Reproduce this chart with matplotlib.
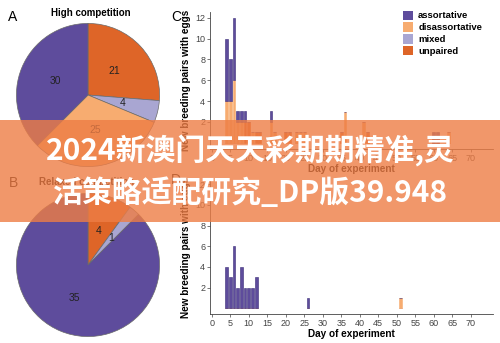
import numpy as np
import matplotlib.pyplot as plt
from matplotlib.patches import Patch, Rectangle

plt.rcParams['font.family'] = ['Liberation Sans', 'DejaVu Sans']

# categories and colours
cats = ['assortative', 'disassortative', 'mixed', 'unpaired']
cols = {'assortative': '#5E4C9C', 'disassortative': '#F7AC70',
        'mixed': '#A9A6D2', 'unpaired': '#DE6528'}

# pie counts (order: unpaired, mixed, disassortative, assortative)
pie_order = ['unpaired', 'mixed', 'disassortative', 'assortative']
high_comp = [21, 4, 25, 30]
relaxed_comp = [4, 1, 0, 35]

# panel C: high competition, new pairs per day
days_c = [4, 5, 6, 7, 8, 9, 10, 11, 12, 13, 16, 17, 20, 21, 23, 24, 25, 35, 36, 41, 42, 60, 61, 64]
assort_c = [6, 4, 6, 1, 1, 1, 0, 0, 0, 0, 1, 0, 0, 0, 0, 0, 0, 0, 0, 0, 0, 1, 1, 0]
disass_c = [4, 4, 6, 2, 2, 0, 0, 1, 0, 0, 2, 1, 0, 0, 1, 1, 1, 0, 3, 2, 0, 0, 0, 1]
mixed_c = [0] * len(days_c)
unpaired_c = [0, 0, 0, 0, 0, 2, 2, 0, 1, 1, 0, 0, 1, 1, 0, 0, 0, 1, 0, 0, 1, 0, 0, 0]

# panel D: relaxed competition
days_d = [4, 5, 6, 7, 8, 9, 10, 11, 12, 26, 51]
assort_d = [4, 3, 6, 2, 4, 2, 2, 2, 3, 1, 0]
disass_d = [0, 0, 0, 0, 0, 0, 0, 0, 0, 0, 1]
mixed_d = [0] * len(days_d)
unpaired_d = [0] * len(days_d)

W, H = 500, 343
fig = plt.figure(figsize=(W / 100, H / 100), dpi=100)


def px_axes(x0, y0, x1, y1):
    # pixel box (top-left origin) -> figure axes
    return fig.add_axes([x0 / W, 1 - y1 / H, (x1 - x0) / W, (y1 - y0) / H])


def draw_pie(ax, vals):
    labels = [c for c, v in zip(pie_order, vals) if v > 0]
    v = [x for x in vals if x > 0]
    total = sum(v)
    wedges, texts, autotexts = ax.pie(
        v, colors=[cols[c] for c in labels], startangle=90, counterclock=False,
        autopct=lambda p: f'{round(p * total / 100)}', pctdistance=0.5,
        wedgeprops=dict(edgecolor='#6a6a6a', linewidth=0.5),
        textprops=dict(fontsize=7.5, color='#222222'))
    ax.set_xlim(-1.02, 1.02)
    ax.set_ylim(-1.02, 1.02)


axA = px_axes(15, 22, 161, 168)
draw_pie(axA, high_comp)
axB = px_axes(15, 192, 161, 338)
draw_pie(axB, relaxed_comp)

fig.text(91 / W, 1 - 13 / H, 'High competition', fontsize=7, fontweight='bold',
         ha='center', va='center')
fig.text(87 / W, 1 - 182 / H, 'Relaxed competition', fontsize=7, fontweight='bold',
         ha='center', va='center')
for lab, x, y in [('A', 13, 17), ('B', 13, 183), ('C', 176, 17), ('D', 176, 180)]:
    fig.text(x / W, 1 - y / H, lab, fontsize=10, ha='center', va='center')


def draw_bars(ax, days, series):
    bottom = np.zeros(len(days))
    for name in ['unpaired', 'mixed', 'disassortative', 'assortative']:
        vals = np.array(series[name], dtype=float)
        edge = '#3a2b78' if name == 'assortative' else cols[name]
        ax.bar(days, vals, width=0.75, bottom=bottom, color=cols[name],
               edgecolor=edge, linewidth=0.4)
        bottom += vals
    ax.set_xlim(-0.46, 76)
    ax.set_xticks(np.arange(0, 75, 5))
    ax.set_yticks(np.arange(2, 13, 2))
    for s in ['top', 'right']:
        ax.spines[s].set_visible(False)
    for s in ['left', 'bottom']:
        ax.spines[s].set_color('#444444')
        ax.spines[s].set_linewidth(0.6)
    ax.tick_params(labelsize=6.5, colors='#444444', length=2, width=0.5, pad=1.5)
    ax.set_xlabel('Day of experiment', fontsize=7.2, fontweight='bold', labelpad=1)
    ax.set_ylabel('New breeding pairs with eggs', fontsize=7.2, fontweight='bold', labelpad=3)


axC = px_axes(210, 11.5, 493, 149)
draw_bars(axC, days_c, {'assortative': assort_c, 'disassortative': disass_c,
                        'mixed': mixed_c, 'unpaired': unpaired_c})
axC.set_ylim(-0.6, 12.6)

axD = px_axes(210, 180, 493, 314)
draw_bars(axD, days_d, {'assortative': assort_d, 'disassortative': disass_d,
                        'mixed': mixed_d, 'unpaired': unpaired_d})
axD.set_ylim(-0.55, 12.4)

handles = [Patch(facecolor=cols[c], edgecolor='none') for c in cats]
fig.legend(handles, cats, loc='upper left', bbox_to_anchor=(396 / W, 1 - 4 / H),
           frameon=False, prop=dict(weight='bold', size=6.8),
           handlelength=1.15, handleheight=1.15, handletextpad=0.5,
           labelspacing=0.2, borderpad=0.2)

# overlay banner
fig.patches.append(Rectangle((0, 1 - 222 / H), 1, 102 / H, transform=fig.transFigure,
                             facecolor='#EE7D45', alpha=0.8, zorder=10, edgecolor='none'))
banner_font = ['Noto Sans CJK SC', 'DejaVu Sans']
fig.text(0.5, 1 - 151 / H, '2024新澳门天天彩期期精准,灵', fontsize=21.5, fontweight='bold',
         color='white', ha='center', va='center', family=banner_font, zorder=11)
fig.text(0.5, 1 - 193 / H, '活策略适配研究_DP版39.948', fontsize=21.5, fontweight='bold',
         color='white', ha='center', va='center', family=banner_font, zorder=11)

fig.savefig('out.png', dpi=100)
